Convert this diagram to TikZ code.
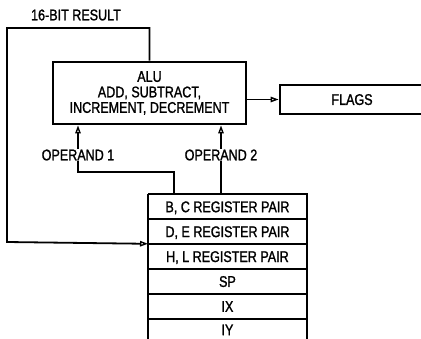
\documentclass[tikz,border=0pt]{standalone}
\usepackage{fontspec}
\setmainfont[FakeStretch=0.81, FakeBold=1.3]{Liberation Sans}
\usetikzlibrary{arrows.meta}
\tikzset{
  box/.style={draw, line width=2.8pt, inner sep=0pt},
  regrow/.style={draw, line width=0.9pt, minimum width=158pt, minimum height=24pt, inner sep=0pt, anchor=north west, text height=11.5pt, text depth=0pt},
  conn/.style={line width=1.8pt},
  arr/.style={conn, -{Triangle[open, length=8pt, width=5.5pt, line width=1.4pt]}},
  lbl/.style={fill=white, inner sep=1pt},
  txt/.style={font=\fontsize{15.5}{15.5}\selectfont}
}
\begin{document}
\begin{tikzpicture}[x=1pt,y=-1pt, txt]
\useasboundingbox (0,0) rectangle (421,338);
\clip (0,0) rectangle (421,338);
\fill[white] (0,0) rectangle (421,338);
% ALU
\node[box, minimum width=193pt, minimum height=62pt, align=center] (alu) at (149.5,93)
  {ALU\\ADD, SUBTRACT,\\INCREMENT, DECREMENT};
% FLAGS
\node[box, minimum width=150pt, minimum height=29pt, text depth=0pt] (flags) at (355,99.5) {\hspace*{-6pt}FLAGS};
% registers
\node[regrow] (bc) at (148,194) {B, C REGISTER PAIR};
\node[regrow] (de) at (bc.south west) {D, E REGISTER PAIR};
\node[regrow] (hl) at (de.south west) {H, L REGISTER PAIR};
\node[regrow] (sp) at (hl.south west) {SP};
\node[regrow] (ix) at (sp.south west) {IX};
\node[regrow, minimum height=21pt] (iy) at (ix.south west) {IY};
\draw[line width=2.6pt] (bc.north west) -- (bc.north east) -- ([yshift=-8pt]iy.south east);
\draw[line width=2.6pt] (bc.north west) -- ([yshift=-8pt]iy.south west);
% 16-bit result loop
\coordinate (rtop) at (7,28);
\coordinate (rbot) at (7,242);
\draw[arr] (alu.north) |- (rtop) -- (rbot) -- (de.south west);
\node (res) at (76,15) {16-BIT RESULT};
% ALU -> FLAGS
\draw[arr] (alu.east |- flags.west) -- (flags.west);
% operand 1
\coordinate (o1) at (174,172);
\coordinate (o1b) at (78,172);
\draw[arr] (o1 |- bc.north) -- (o1) -- (o1b) -- (o1b |- alu.south);
\node[lbl] (op1) at (78,155) {OPERAND 1};
% operand 2
\coordinate (o2) at (221,172);
\draw[arr] (o2 |- bc.north) -- (o2 |- alu.south);
\node[lbl] (op2) at (221,155) {OPERAND 2};
\end{tikzpicture}
\end{document}
